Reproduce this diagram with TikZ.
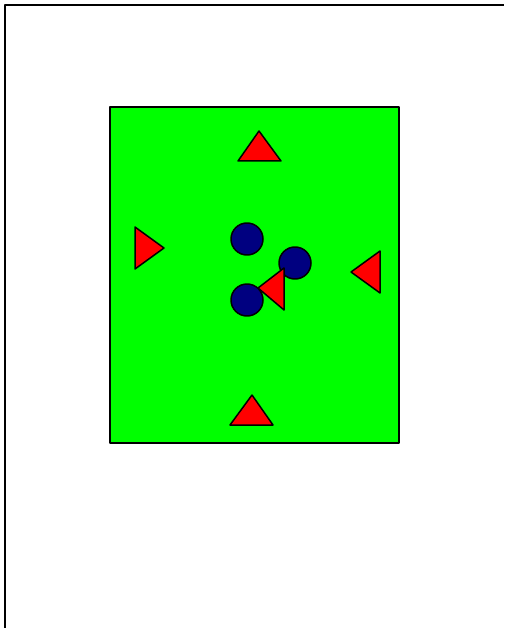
\documentclass[tikz,border=0pt]{standalone}
\definecolor{pitch}{RGB}{0,255,0}
\definecolor{cone}{RGB}{255,0,0}
\definecolor{navyball}{RGB}{0,0,128}
\begin{document}
\begin{tikzpicture}[x=1pt,y=-1pt,line cap=round,line join=round,
  conestyle/.style={fill=cone,draw=black,line width=1.5pt},
  playerstyle/.style={fill=navyball,draw=black,line width=1.5pt}]
  \useasboundingbox (0,0) rectangle (504,628);
  \draw[line width=2pt,line cap=butt] (5,628) -- (5,5) -- (504,5);
  \coordinate (P1) at (110,107);
  \coordinate (P2) at (399,443);
  \draw[fill=pitch,line width=1.5pt] (P1) rectangle (P2);
  \coordinate (C1) at (247,239);
  \coordinate (C2) at (295,263);
  \coordinate (C3) at (247,300);
  \foreach \c in {C1,C2,C3}
    \draw[playerstyle] (\c) circle[radius=16];
  \draw[conestyle] (259,131) -- (281,161) -- (238,161) -- cycle;
  \draw[conestyle] (252,395) -- (273,425) -- (230,425) -- cycle;
  \draw[conestyle] (164,248) -- (135,269) -- (135,227) -- cycle;
  \draw[conestyle] (351,272) -- (380,251) -- (380,293) -- cycle;
  \draw[conestyle] (258,288) -- (284,268) -- (284,310) -- cycle;
\end{tikzpicture}
\end{document}
